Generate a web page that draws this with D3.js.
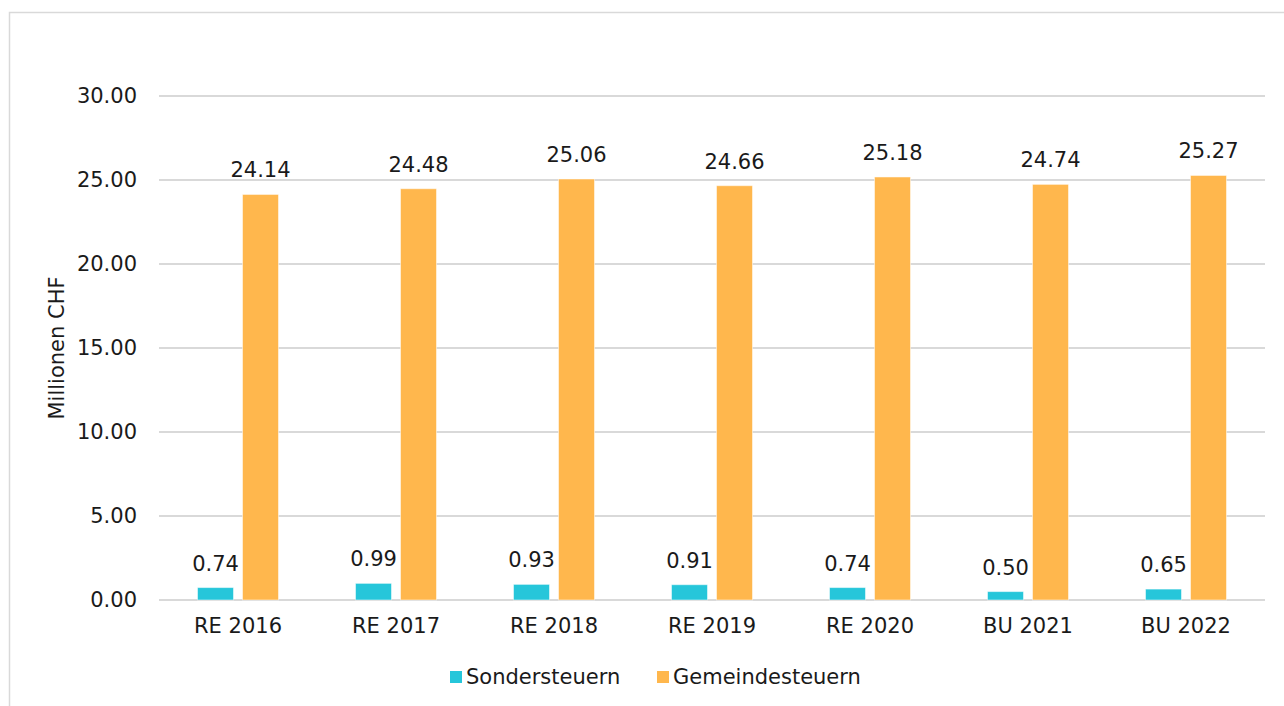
<!DOCTYPE html>
<html>
<head>
<meta charset="utf-8">
<script src="https://cdn.jsdelivr.net/npm/d3@7"></script>
<style>
  html, body { margin: 0; padding: 0; background: #fff; }
  svg { display: block; font-family: "DejaVu Sans", Verdana, sans-serif; }
</style>
</head>
<body>
<script>
const categories = ['RE 2016', 'RE 2017', 'RE 2018', 'RE 2019', 'RE 2020', 'BU 2021', 'BU 2022'];
const seriesNames = ['Sondersteuern', 'Gemeindesteuern'];
const sondersteuern = [0.74, 0.99, 0.93, 0.91, 0.74, 0.50, 0.65];
const gemeindesteuern = [24.14, 24.48, 25.06, 24.66, 25.18, 24.74, 25.27];
const yTicks = [0, 5, 10, 15, 20, 25, 30];
const colors = ['#26c6da', '#ffb74d'];

const W = 1284, H = 706;
const margin = { left: 159, right: 19, top: 96, bottom: 106 };
const plotW = W - margin.left - margin.right;
const plotH = H - margin.top - margin.bottom;
const fs = 21;

const rows = categories.map((c, i) => ({ cat: c, values: [sondersteuern[i], gemeindesteuern[i]] }));

const svg = d3.select('body').append('svg')
  .attr('width', W)
  .attr('height', H);

// outer frame
svg.append('rect')
  .attr('x', 9.5).attr('y', 12.5)
  .attr('width', W).attr('height', H)
  .attr('fill', 'none')
  .attr('stroke', '#d9d9d9')
  .attr('stroke-width', 1.5);

const g = svg.append('g').attr('transform', 'translate(' + margin.left + ',' + margin.top + ')');

const x = d3.scaleBand().domain(categories).range([0, plotW]).padding(0);
const y = d3.scaleLinear().domain([0, 30]).range([plotH, 0]);

const barW = 36, gap = 9;
const x1 = d3.scaleOrdinal().domain([0, 1]).range([-(gap / 2 + barW), gap / 2]);

// gridlines
g.append('g')
  .selectAll('line')
  .data(yTicks)
  .enter()
  .append('line')
  .attr('x1', 0).attr('x2', plotW)
  .attr('y1', d => y(d)).attr('y2', d => y(d))
  .attr('stroke', '#d9d9d9')
  .attr('stroke-width', 2);

// y axis labels
const yAxis = d3.axisLeft(y)
  .tickValues(yTicks)
  .tickFormat(d3.format('.2f'))
  .tickSize(0)
  .tickPadding(22);

g.append('g')
  .call(yAxis)
  .call(s => s.select('.domain').remove())
  .selectAll('text')
  .attr('font-size', fs)
  .attr('font-family', '"DejaVu Sans", Verdana, sans-serif')
  .attr('fill', '#1a1a1a');

// x axis labels
const xAxis = d3.axisBottom(x).tickSize(0).tickPadding(18);
g.append('g')
  .attr('transform', 'translate(0,' + plotH + ')')
  .call(xAxis)
  .call(s => s.select('.domain').remove())
  .selectAll('text')
  .attr('font-size', fs)
  .attr('font-family', '"DejaVu Sans", Verdana, sans-serif')
  .attr('fill', '#1a1a1a');

// bars
const groups = g.append('g')
  .selectAll('g')
  .data(rows)
  .enter()
  .append('g')
  .attr('transform', d => 'translate(' + (x(d.cat) + x.bandwidth() / 2) + ',0)');

groups.selectAll('rect')
  .data(d => d.values.map((v, i) => ({ v, i })))
  .enter()
  .append('rect')
  .attr('x', d => x1(d.i))
  .attr('y', d => y(d.v))
  .attr('width', barW)
  .attr('height', d => y(0) - y(d.v))
  .attr('fill', d => colors[d.i])
  .attr('stroke', '#fff')
  .attr('stroke-opacity', 0.5)
  .attr('stroke-width', 1);

groups.selectAll('text')
  .data(d => d.values.map((v, i) => ({ v, i })))
  .enter()
  .append('text')
  .attr('x', d => x1(d.i) + barW / 2)
  .attr('y', d => y(d.v) - 17)
  .attr('text-anchor', 'middle')
  .attr('font-size', fs)
  .attr('fill', '#1a1a1a')
  .text(d => d3.format('.2f')(d.v));

// y axis title
svg.append('text')
  .attr('transform', 'translate(64,348) rotate(-90)')
  .attr('text-anchor', 'middle')
  .attr('font-size', fs)
  .attr('fill', '#1a1a1a')
  .text('Millionen CHF');

// legend
const legendX = [450, 657];
const legend = svg.append('g')
  .selectAll('g')
  .data(seriesNames)
  .enter()
  .append('g')
  .attr('transform', (d, i) => 'translate(' + legendX[i] + ',671)');

legend.append('rect')
  .attr('width', 12).attr('height', 12)
  .attr('fill', (d, i) => colors[i]);

legend.append('text')
  .attr('x', 16)
  .attr('y', 13)
  .attr('font-size', fs)
  .attr('fill', '#1a1a1a')
  .text(d => d);
</script>
</body>
</html>
